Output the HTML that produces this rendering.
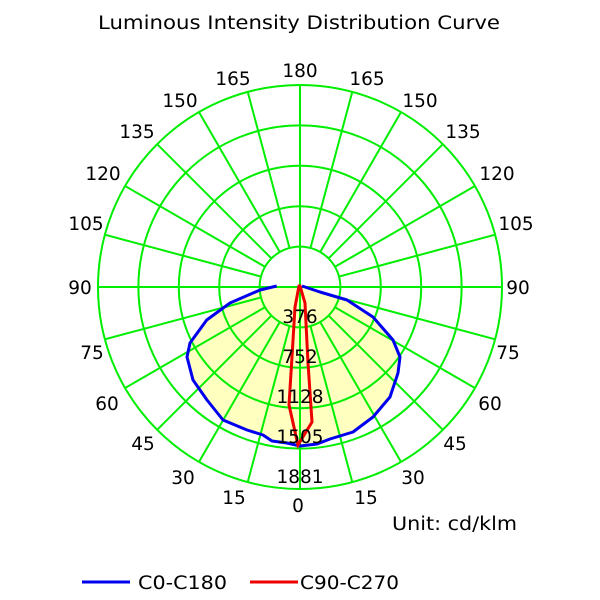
<!DOCTYPE html>
<html><head><style>body{margin:0;background:#fff}svg{display:block}text{font-family:"DejaVu Sans","Liberation Sans",sans-serif;font-size:18.5px;fill:#000}</style></head>
<body>
<svg width="600" height="600" viewBox="0 0 600 600">
<text x="98" y="29" textLength="402" lengthAdjust="spacingAndGlyphs">Luminous Intensity Distribution Curve</text>
<g id="grid" stroke="#00ee00" stroke-width="2" fill="none">
</g>
<path d="M300,287 L276.7,286 260,290 230,303 206.7,320 190,343 187,357 193,380 207,400 223,420 247,430 263,435 272,441 287,443 300,446 317,444 330,439 353,432 373,417 390,397 398,373 400,357 393,340 373,317 347,300 320,292 302,286 Z" fill="#ffffc0" stroke="none"/>
<g stroke="#00ee00" stroke-width="2" fill="none" id="g2"></g>
<path d="M276.7,286 260,290 230,303 206.7,320 190,343 187,357 193,380 207,400 223,420 247,430 263,435 272,441 287,443 300,446 317,444 330,439 353,432 373,417 390,397 398,373 400,357 393,340 373,317 347,300 320,292 302,286" fill="none" stroke="#0000ee" stroke-width="3" stroke-linejoin="round"/>
<path d="M299,286 295,307 292,357 289,405 298,445 312,422 308,363 305,303 300,286 Z" fill="none" stroke="#ee0000" stroke-width="3"/>
<g text-anchor="middle" id="lab">
<text x="300" y="323">376</text><text x="300" y="363">752</text><text x="300" y="403">1128</text><text x="300" y="443">1505</text><text x="300" y="483">1881</text>
<text x="300" y="77">180</text><text x="298" y="512">0</text>
<text x="233" y="85">165</text><text x="180" y="107">150</text><text x="137" y="138">135</text><text x="103" y="180">120</text><text x="86" y="230">105</text><text x="80" y="294">90</text><text x="92" y="359">75</text><text x="107" y="410">60</text><text x="143" y="450">45</text><text x="183" y="484">30</text><text x="234" y="504">15</text>
<text x="367" y="85">165</text><text x="420" y="107">150</text><text x="463" y="138">135</text><text x="497" y="180">120</text><text x="516" y="230">105</text><text x="518" y="294">90</text><text x="508" y="359">75</text><text x="490" y="410">60</text><text x="455" y="450">45</text><text x="413" y="484">30</text><text x="366" y="504">15</text>
</g>
<text x="392" y="530" textLength="125" lengthAdjust="spacingAndGlyphs">Unit: cd/klm</text>
<line x1="82" y1="582" x2="130" y2="582" stroke="#0000ee" stroke-width="3"/>
<text x="138" y="589" textLength="89" lengthAdjust="spacingAndGlyphs">C0-C180</text>
<line x1="250" y1="582" x2="298" y2="582" stroke="#ee0000" stroke-width="3"/>
<text x="300" y="589" textLength="99" lengthAdjust="spacingAndGlyphs">C90-C270</text>
</svg>
<script>
var cx=300,cy=287,R=202,s='';
for(var i=1;i<=5;i++)s+='<circle cx="'+cx+'" cy="'+cy+'" r="'+(R*i/5)+'"/>';
for(var a=0;a<360;a+=15){var t=a*Math.PI/180,r0=(a%90==0)?0:R/5;s+='<line x1="'+(cx+r0*Math.sin(t))+'" y1="'+(cy+r0*Math.cos(t))+'" x2="'+(cx+R*Math.sin(t))+'" y2="'+(cy+R*Math.cos(t))+'"/>';}
document.getElementById('g2').innerHTML=s;
</script>
</body></html>
